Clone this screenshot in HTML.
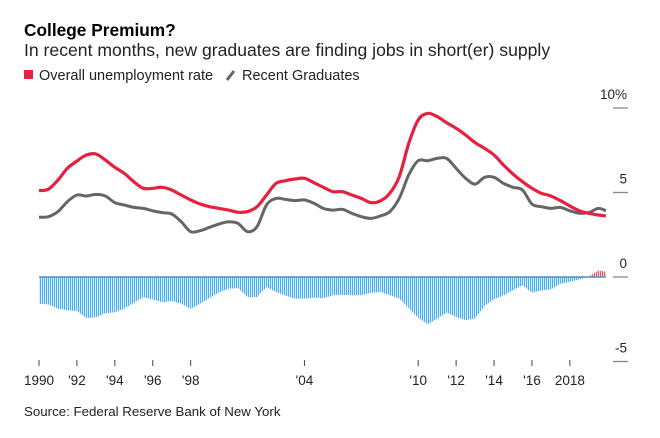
<!DOCTYPE html>
<html><head><meta charset="utf-8"><style>
html,body{margin:0;padding:0;background:#fff;width:660px;height:438px;overflow:hidden}
svg{display:block;font-family:"Liberation Sans",sans-serif}
</style></head><body>
<svg width="660" height="438">
<defs>
<pattern id="stB" width="2" height="10" patternUnits="userSpaceOnUse"><rect x="0" y="0" width="1.2" height="10" fill="#45aef5"/></pattern>
<pattern id="stR" width="2" height="10" patternUnits="userSpaceOnUse"><rect x="0" y="0" width="1.2" height="10" fill="#f0566b"/></pattern>
</defs>
<text x="24" y="36" font-size="17.3" font-weight="bold" fill="#000">College Premium?</text>
<text x="24" y="56" font-size="17.6" fill="#222">In recent months, new graduates are finding jobs in short(er) supply</text>
<g>
<rect x="24" y="70" width="9" height="9" fill="#e8203f"/>
<text x="39" y="80" font-size="14.5" fill="#222">Overall unemployment rate</text>
<line x1="227" y1="80" x2="234" y2="71" stroke="#666" stroke-width="3"/>
<text x="242" y="80" font-size="14.5" fill="#222">Recent Graduates</text>
</g>
<g id="axes"></g>
<g id="bars"></g>
<g id="lines"></g>
<text x="24" y="416" font-size="13.3" fill="#222">Source: Federal Reserve Bank of New York</text>
</svg>
<script>
const years = [1990,1990.5,1991,1991.5,1992,1992.5,1993,1993.5,1994,1994.5,1995,1995.5,1996,1996.5,1997,1997.5,1998,1998.5,1999,1999.5,2000,2000.5,2001,2001.5,2002,2002.5,2003,2003.5,2004,2004.5,2005,2005.5,2006,2006.5,2007,2007.5,2008,2008.5,2009,2009.5,2010,2010.5,2011,2011.5,2012,2012.5,2013,2013.5,2014,2014.5,2015,2015.5,2016,2016.5,2017,2017.5,2018,2018.5,2019,2019.5,2019.9];
const overall = [5.11,5.2,5.74,6.43,6.86,7.22,7.28,6.92,6.49,6.13,5.64,5.25,5.25,5.31,5.15,4.85,4.56,4.32,4.16,4.06,3.96,3.83,3.87,4.16,4.85,5.54,5.7,5.8,5.84,5.58,5.31,5.05,5.05,4.85,4.65,4.4,4.5,4.95,5.93,7.9,9.29,9.68,9.49,9.13,8.8,8.4,7.95,7.61,7.22,6.63,6.09,5.64,5.25,4.95,4.79,4.52,4.2,3.92,3.77,3.67,3.61];
const graduates = [3.53,3.57,3.87,4.46,4.85,4.79,4.89,4.79,4.4,4.26,4.12,4.06,3.92,3.81,3.73,3.27,2.68,2.74,2.94,3.14,3.27,3.17,2.68,2.98,4.26,4.65,4.59,4.52,4.56,4.36,4.06,3.96,4.0,3.77,3.57,3.47,3.61,3.87,4.65,6.04,6.88,6.88,7.02,7.02,6.43,5.84,5.5,5.9,5.9,5.54,5.31,5.15,4.32,4.16,4.06,4.12,3.92,3.77,3.81,4.06,3.92];
const xTickYears = [1990,1992,1994,1996,1998,2004,2010,2012,2014,2016,2018];
const xTickLabels = ["1990","'92","'94","'96","'98","'04","'10","'12","'14","'16","2018"];
const yTicks = [10,5,0,-5];
const yTickLabels = ["10%","5","0","-5"];

const NS="http://www.w3.org/2000/svg";
function X(yr){return 39+(yr-1990)*18.96;}
function Y(v){return 277-v*16.9;}
function mk(tag,attrs,parent){const e=document.createElementNS(NS,tag);for(const k in attrs)e.setAttribute(k,attrs[k]);parent.appendChild(e);return e;}
const axes=document.getElementById('axes'),bars=document.getElementById('bars'),lines=document.getElementById('lines');

yTicks.forEach((t,i)=>{
  const l=mk('line',{x1:613,x2:628,y1:Y(t),y2:Y(t),stroke:'#888','stroke-width':1.3},axes);
  
  
  const tx=mk('text',{x:627,y:Y(t)-9,'font-size':13.5,'text-anchor':'end',fill:'#222'},axes);
  tx.textContent=yTickLabels[i];
  
  
});
xTickYears.forEach((yr,i)=>{
  const l=mk('line',{x1:X(yr),x2:X(yr),y1:360,y2:366,stroke:'#444','stroke-width':1},axes);
  
  
  const tx=mk('text',{x:X(yr),y:385,'font-size':13.5,'text-anchor':'middle',fill:'#222'},axes);
  tx.textContent=xTickLabels[i];
  
  
});

for(let i=0;i<years.length-1;i++){
  const d0=graduates[i]-overall[i], d1=graduates[i+1]-overall[i+1];
  const x0=X(years[i]), x1=X(years[i+1]);
  const p=`M${x0},${Y(0)} L${x0},${Y(d0)} L${x1},${Y(d1)} L${x1},${Y(0)} Z`;
  const pos=(d0+d1)/2>0;
  const b=mk('path',{d:p,fill:pos?'url(#stR)':'url(#stB)'},bars);
  
  
}
const base=mk('line',{x1:X(1990),x2:X(years[years.length-1]),y1:Y(0),y2:Y(0),stroke:'#4a8fc9','stroke-width':1.5},bars);



function path(arr){
  const P=arr.map((v,i)=>[X(years[i]),Y(v)]);
  let d='M'+P[0][0].toFixed(1)+','+P[0][1].toFixed(1);
  for(let i=0;i<P.length-1;i++){
    const p0=P[Math.max(0,i-1)],p1=P[i],p2=P[i+1],p3=P[Math.min(P.length-1,i+2)];
    const c1=[p1[0]+(p2[0]-p0[0])/6,p1[1]+(p2[1]-p0[1])/6];
    const c2=[p2[0]-(p3[0]-p1[0])/6,p2[1]-(p3[1]-p1[1])/6];
    d+=` C${c1[0].toFixed(1)},${c1[1].toFixed(1)} ${c2[0].toFixed(1)},${c2[1].toFixed(1)} ${p2[0].toFixed(1)},${p2[1].toFixed(1)}`;
  }
  return d;
}
const g=mk('path',{d:path(graduates),fill:'none',stroke:'#666','stroke-width':3,'stroke-linejoin':'round'},lines);


const o=mk('path',{d:path(overall),fill:'none',stroke:'#e8203f','stroke-width':3.2,'stroke-linejoin':'round'},lines);


</script>
</body></html>
